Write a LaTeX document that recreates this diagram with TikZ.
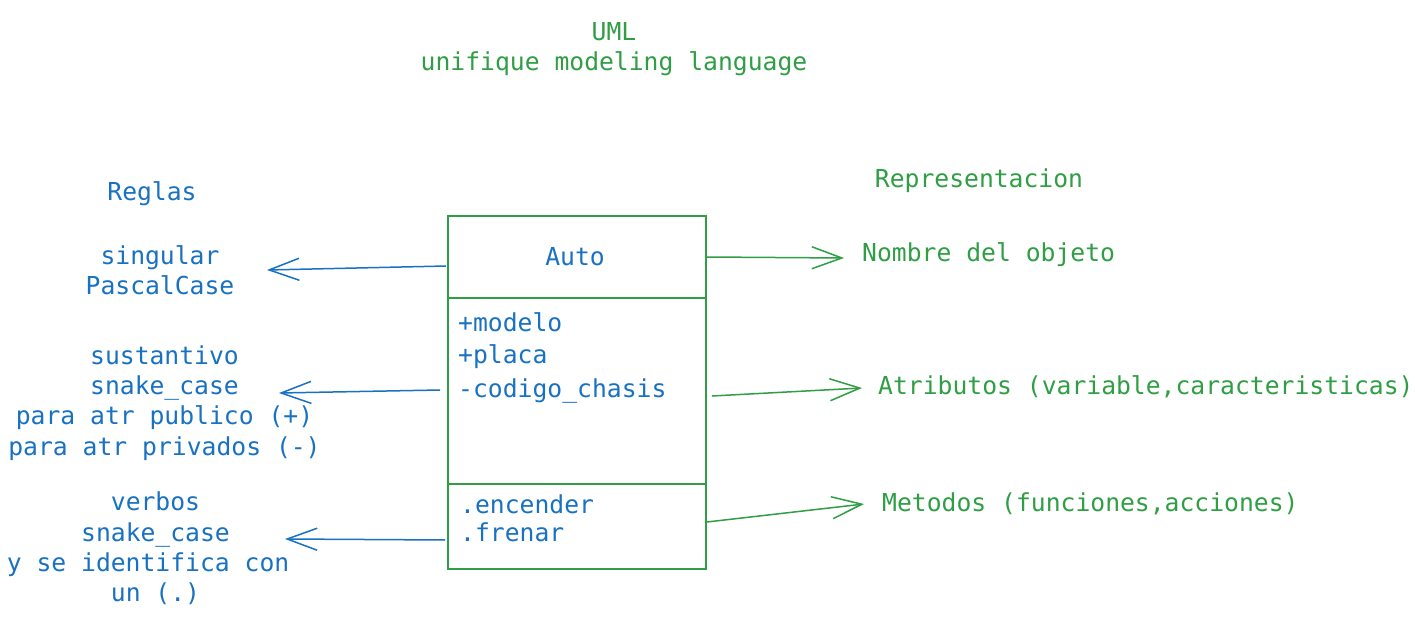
\documentclass[tikz,border=0pt]{standalone}
\usepackage{fontspec}
\setmonofont{DejaVu Sans Mono}
\usetikzlibrary{arrows.meta,calc}
\definecolor{xgreen}{HTML}{2F9E44}
\definecolor{xblue}{HTML}{1971C2}
\begin{document}
\begin{tikzpicture}[x=1pt,y=-1pt,
  txt/.style={font=\ttfamily\fontsize{24.7}{30.3}\selectfont, inner sep=0pt},
  gtxt/.style={txt, text=xgreen},
  btxt/.style={txt, text=xblue},
  part/.style={draw=xgreen, line width=1.6pt, minimum width=258pt, inner sep=0pt},
  barrow/.style={draw=xblue, line width=1.5pt, -{Straight Barb[length=30pt,width=22pt,line width=1.5pt]}},
  garrow/.style={draw=xgreen, line width=1.5pt, -{Straight Barb[length=30pt,width=22pt,line width=1.5pt]}}]
\useasboundingbox (0,0) rectangle (1415,636);
\fill[white] (0,0) rectangle (1415,636);

% title
\node[gtxt, align=center] (title) at (614,49) {UML\\unifique modeling language};

% class box
\node[part, minimum height=82pt] (hdr) at (577,257) {};
\node[part, minimum height=186pt] (attrs) at (577,391) {};
\node[part, minimum height=85pt] (meths) at (577,526.5) {};

\node[btxt] (auto) at (575,257) {Auto};
\node[btxt, anchor=mid west] (a1) at (458,329) {+modelo};
\node[btxt, anchor=mid west] (a2) at (458,361) {+placa};
\node[btxt, anchor=mid west] (a3) at (458,395) {-codigo\_chasis};
\node[btxt, anchor=mid west] (m1) at (460,511) {.encender};
\node[btxt, anchor=mid west] (m2) at (460,539) {.frenar};

% left side
\node[btxt] (reglas) at (152,194) {Reglas};
\node[btxt, align=center] (r1) at (160,270) {singular\\PascalCase};
\node[btxt, align=center] (r2) at (164.5,403) {sustantivo\\snake\_case\\para atr publico (+)\\para atr privados (-)};
\node[btxt, align=center] (r3) at (155.5,548.5) {verbos\\snake\_case\\y se identifica con\hphantom{x}\\un (.)};

% right side
\node[gtxt] (repr) at (979,181) {Representacion};
\node[gtxt, anchor=mid west] (d1) at (862,259) {Nombre del objeto};
\node[gtxt, anchor=mid west] (d2) at (878,392) {Atributos (variable,caracteristicas)};
\node[gtxt, anchor=mid west] (d3) at (882,509) {Metodos (funciones,acciones)};

% arrow tips
\coordinate (t1) at (267,270);
\coordinate (t2) at (279,393);
\coordinate (t3) at (285,539);
\coordinate (t4) at (844,258);
\coordinate (t5) at (862,388);
\coordinate (t6) at (864,504);

\draw[barrow] ($(hdr.west)+(-1,9)$) -- (t1);
\draw[barrow] ($(attrs.west)+(-7,-1)$) -- (t2);
\draw[barrow] ($(meths.west)+(-2,13.5)$) -- (t3);
\draw[garrow] (hdr.east) -- (t4);
\draw[garrow] ($(attrs.east)+(5,5)$) -- (t5);
\draw[garrow] ($(meths.east)+(0,-4.5)$) -- (t6);
\end{tikzpicture}
\end{document}
